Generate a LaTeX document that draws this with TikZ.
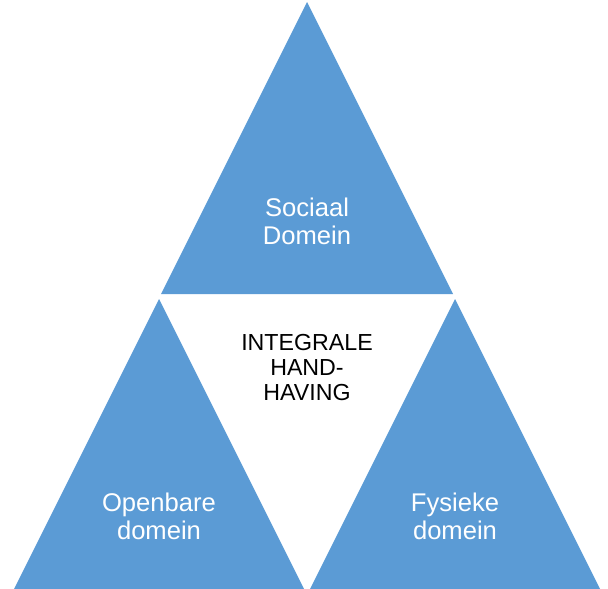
\documentclass[tikz,border=0pt]{standalone}
\usepackage{fontspec}
\setmainfont{Liberation Sans}
\definecolor{triblue}{HTML}{5B9BD5}
\begin{document}
\begin{tikzpicture}[x=1pt,y=-1pt,
  tri/.style={fill=triblue,draw=none},
  lbl/.style={align=center,font=\fontsize{23.2}{25}\selectfont,inner sep=0pt},
  wl/.style={align=center,font=\fontsize{25.6}{28}\selectfont,inner sep=0pt,text=white}]
\useasboundingbox (0,0) rectangle (608,589);
\fill[tri] (307,2) -- (161,294) -- (453,294) -- cycle;
\fill[tri] (159,299) -- (14,589) -- (304,589) -- cycle;
\fill[tri] (455,299) -- (310,589) -- (600,589) -- cycle;
\node[wl] (soc) at (307,221) {Sociaal\\Domein};
\node[wl] (open) at (159,516) {Openbare\\domein};
\node[wl] (fys) at (455,516) {Fysieke\\domein};
\node[lbl] (int) at (307,368) {INTEGRALE\\HAND-\\HAVING};
\end{tikzpicture}
\end{document}
